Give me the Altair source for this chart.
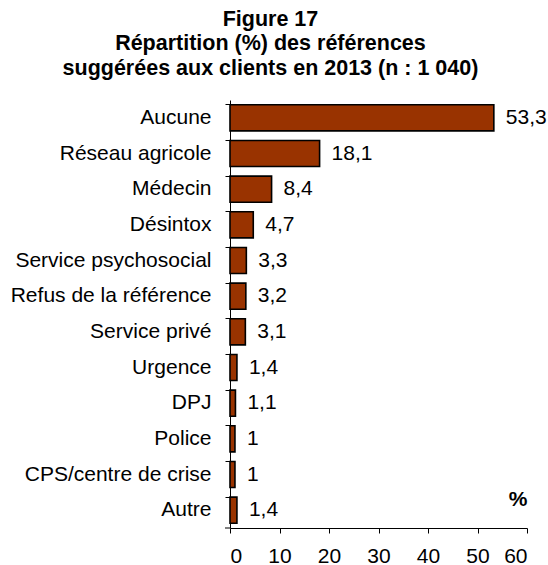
import altair as alt
import pandas as pd

# Referral categories and their share of clients (%)
categories = [
    "Aucune",
    "Réseau agricole",
    "Médecin",
    "Désintox",
    "Service psychosocial",
    "Refus de la référence",
    "Service privé",
    "Urgence",
    "DPJ",
    "Police",
    "CPS/centre de crise",
    "Autre",
]
values = [53.3, 18.1, 8.4, 4.7, 3.3, 3.2, 3.1, 1.4, 1.1, 1, 1, 1.4]
x_ticks = [0, 10, 20, 30, 40, 50, 60]
title_lines = [
    "Figure 17",
    "Répartition (%) des références",
    "suggérées aux clients en 2013 (n : 1 040)",
]

df = pd.DataFrame({"categorie": categories, "pourcentage": values})

FONT = "Liberation Sans"
BAR_FILL = "#993300"
TEXT_SIZE = 21

base = alt.Chart(df).encode(
    y=alt.Y(
        "categorie:N",
        sort=categories,
        title=None,
        scale=alt.Scale(paddingInner=0.27, paddingOuter=0.135),
        axis=alt.Axis(
            bandPosition=0,
            domainColor="black",
            domainWidth=1,
            tickColor="black",
            tickWidth=1,
            tickSize=5,
            labelFont=FONT,
            labelFontSize=TEXT_SIZE,
            labelColor="black",
            labelPadding=14,
            labelLimit=400,
        ),
    )
)

bars = base.mark_bar(fill=BAR_FILL, stroke="black", strokeWidth=1.6).encode(
    x=alt.X(
        "pourcentage:Q",
        scale=alt.Scale(domain=[0, 60], nice=False),
        axis=alt.Axis(
            values=x_ticks,
            title=None,
            grid=False,
            domainColor="black",
            domainWidth=1,
            tickColor="black",
            tickWidth=1,
            tickSize=5,
            labelFont=FONT,
            labelFontSize=TEXT_SIZE,
            labelColor="black",
            labelPadding=12,
        ),
    )
)

# Value labels with a decimal comma
labels = (
    base.mark_text(
        align="left",
        baseline="middle",
        dx=12,
        font=FONT,
        fontSize=TEXT_SIZE,
        color="black",
    )
    .transform_calculate(
        label="replace(format(datum.pourcentage, '.1~f'), '.', ',')"
    )
    .encode(x="pourcentage:Q", text="label:N")
)

unit = (
    alt.Chart(pd.DataFrame({"unite": ["%"]}))
    .mark_text(font=FONT, fontSize=TEXT_SIZE, fontWeight="bold", color="black",
               align="center", baseline="middle")
    .encode(text="unite:N", x=alt.value(288), y=alt.value(400))
)

# closing tick at the bottom of the category axis
bottom_tick = (
    alt.Chart(pd.DataFrame({"k": [0]}))
    .mark_rule(color="black", strokeWidth=1)
    .encode(x=alt.value(-5), x2=alt.value(0), y=alt.value(428))
)

chart = (
    alt.layer(bars, labels, unit, bottom_tick)
    .properties(
        width=297,
        height=428,
        autosize="none",
        padding={"left": 230, "top": 100, "right": 21, "bottom": 37},
        title=alt.Title(
            title_lines,
            font=FONT,
            fontSize=21.5,
            fontWeight="bold",
            color="black",
            anchor="middle",
            frame="bounds",
            offset=21,
            dx=-8,
            lineHeight=24.5,
        ),
    )
    .configure_view(stroke=None)
)

chart.save("out.html", embed_options={"renderer": "svg", "actions": False})
